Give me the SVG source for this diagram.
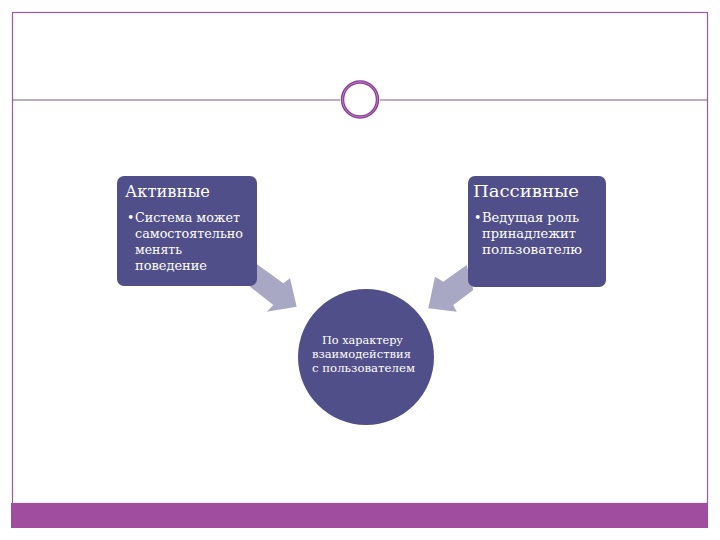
<svg xmlns="http://www.w3.org/2000/svg" width="720" height="540" viewBox="0 0 720 540">
<style>
.frame{fill:none;stroke:#9a5aa3;stroke-width:1.2}
.rule{stroke:#7a5f80;stroke-width:1.2}
.box{fill:#514f8a}
.arrow{fill:#a9a8c4}
.t{font-family:"DejaVu Serif","Liberation Serif",serif;fill:#ffffff}
.h{font-size:16px}
.b{font-size:12.5px}
.c{font-size:10.5px}
</style>
<rect width="720" height="540" fill="#ffffff"/>
<g id="frame">
<rect class="frame" x="12.5" y="12.5" width="695" height="491"/>
<rect x="11" y="503" width="697" height="25" fill="#a04d9f"/>
<line class="rule" x1="12" y1="100" x2="340" y2="100"/>
<line class="rule" x1="380" y1="100" x2="708" y2="100"/>
<circle cx="360" cy="99.5" r="17.5" fill="#ffffff" stroke="#8e3f98" stroke-width="3.5"/>
<circle cx="360" cy="99.5" r="17.5" fill="none" stroke="#c99bd0" stroke-width="0.7"/>
</g>
<g id="connectors">
<polygon class="arrow" points="256.7,264 283.3,283.3 290,278.3 296.7,306.7 266.7,311.7 273.3,305 250,286.7"/>
<polygon class="arrow" points="466.7,265 443.3,281.7 435,276.7 428.3,308.3 456.7,311.7 453.3,305 473.3,290"/>
</g>
<g id="active">
<rect class="box" x="117" y="176" width="140" height="110" rx="7"/>
<text class="t h" x="125" y="197" textLength="85" lengthAdjust="spacingAndGlyphs">Активные</text>
<text class="t b" x="127" y="222">•</text>
<text class="t b" x="135" y="222" textLength="105" lengthAdjust="spacingAndGlyphs">Система может</text>
<text class="t b" x="135" y="238" textLength="108" lengthAdjust="spacingAndGlyphs">самостоятельно</text>
<text class="t b" x="135" y="254" textLength="47" lengthAdjust="spacingAndGlyphs">менять</text>
<text class="t b" x="135" y="270" textLength="72" lengthAdjust="spacingAndGlyphs">поведение</text>
</g>
<g id="passive">
<rect class="box" x="468" y="176" width="138" height="111" rx="7"/>
<text class="t h" x="473" y="197" textLength="106" lengthAdjust="spacingAndGlyphs">Пассивные</text>
<text class="t b" x="474" y="222">•</text>
<text class="t b" x="482" y="222" textLength="97" lengthAdjust="spacingAndGlyphs">Ведущая роль</text>
<text class="t b" x="482" y="238" textLength="94" lengthAdjust="spacingAndGlyphs">принадлежит</text>
<text class="t b" x="482" y="254" textLength="100" lengthAdjust="spacingAndGlyphs">пользователю</text>
</g>
<g id="center">
<circle class="box" cx="366" cy="357" r="68"/>
<text class="t c" x="322" y="344" textLength="81" lengthAdjust="spacingAndGlyphs">По характеру</text>
<text class="t c" x="312" y="358" textLength="99" lengthAdjust="spacingAndGlyphs">взаимодействия</text>
<text class="t c" x="312" y="372" textLength="103" lengthAdjust="spacingAndGlyphs">с пользователем</text>
</g>
</svg>
